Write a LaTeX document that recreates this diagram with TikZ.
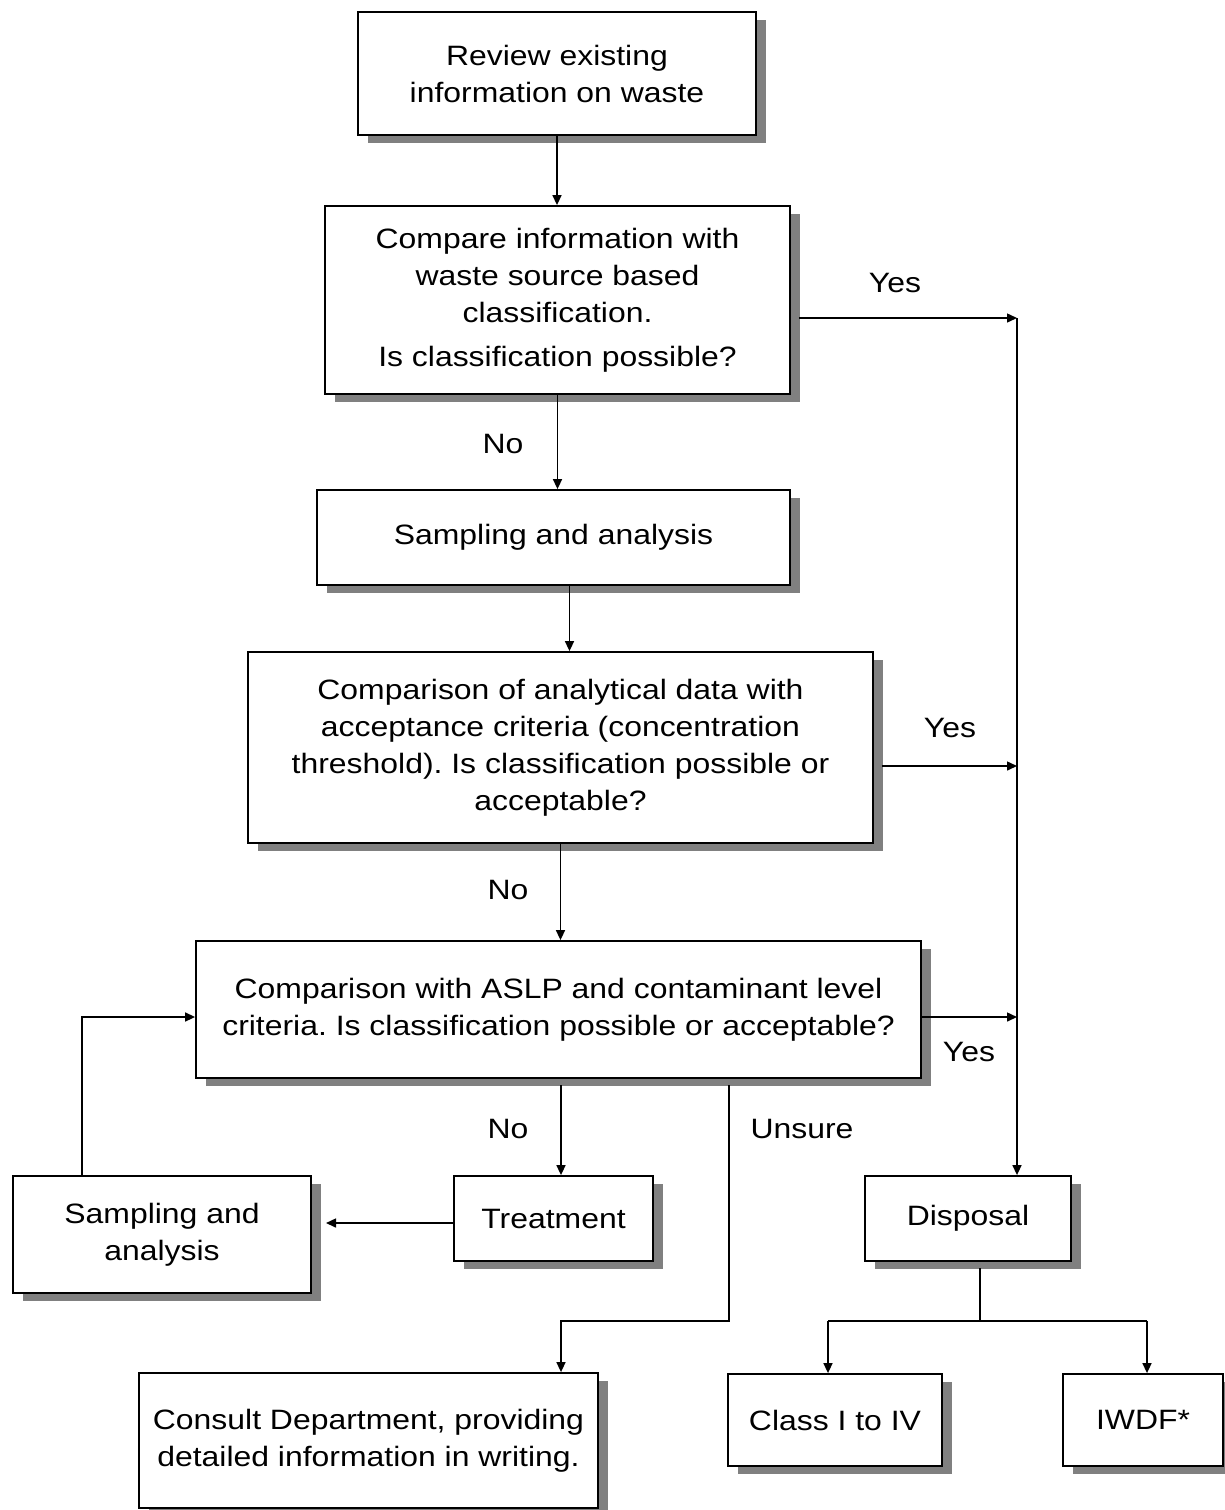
\documentclass[tikz,border=0pt]{standalone}
\usepackage{fontspec}
\setmainfont{Liberation Sans}[FakeStretch=1.14]
\usetikzlibrary{arrows.meta,shadows,calc}
\definecolor{shadowgray}{RGB}{128,128,128}
\frenchspacing
\tikzset{
  box/.style={draw, line width=0.9pt, fill=white, inner sep=0pt, align=center,
    font=\fontsize{14}{18.5}\selectfont\frenchspacing,
    drop shadow={shadow xshift=5pt, shadow yshift=-4pt, fill=shadowgray, opacity=1}},
  arr/.style={line width=0.75pt, -{Triangle[length=5pt,width=4.5pt]}},
  ln/.style={line width=0.75pt},
  lbl/.style={inner sep=0pt, font=\fontsize{14}{18.5}\selectfont}
}
\begin{document}
\begin{tikzpicture}[x=0.5pt,y=-0.5pt]
\useasboundingbox (0,0) rectangle (1225,1510);

% boxes
\node[box, minimum width=199pt, minimum height=61.5pt] (review) at (557,73.5)
  {Review existing\\information on waste};
\node[box, minimum width=232.5pt, minimum height=94pt] (compare) at (557.5,300)
  {Compare information with\\waste source based\\classification.\\[3.5pt]Is classification possible?};
\node[box, minimum width=236.5pt, minimum height=47.5pt] (samp1) at (553.5,537.5)
  {Sampling and analysis};
\node[box, minimum width=312.5pt, minimum height=95.5pt] (anal) at (560.5,747.5)
  {Comparison of analytical data with\\acceptance criteria (concentration\\threshold). Is classification possible or\\acceptable?};
\node[box, minimum width=362.5pt, minimum height=68.5pt] (aslp) at (558.5,1009.5)
  {Comparison with ASLP and contaminant level\\criteria. Is classification possible or acceptable?};
\node[box, minimum width=149pt, minimum height=58.5pt] (samp2) at (162,1234.5)
  {Sampling and\\analysis};
\node[box, minimum width=99.5pt, minimum height=42.5pt] (treat) at (553.5,1218.5)
  {Treatment};
\node[box, minimum width=103pt, minimum height=42.5pt] (disp) at (968,1218.5)
  {Disposal};
\node[box, minimum width=107pt, minimum height=46pt] (class) at (835,1420)
  {Class I to IV};
\node[box, minimum width=80pt, minimum height=46pt] (iwdf) at (1143,1420)
  {IWDF*};
\node[box, minimum width=229.5pt, minimum height=67.5pt] (consult) at (368.5,1440.5)
  {Consult Department, providing\\detailed information in writing.};

% helper coordinates
\coordinate (bus1) at (1017,318);
\coordinate (bus2) at (1017,766);
\coordinate (bus3) at (1017,1017);
\coordinate (t1) at (561,1085);
\coordinate (u1) at (729,1085);
\coordinate (u2) at (561,1321);
\coordinate (s2r) at (326,1223);
\coordinate (l1) at (82,1017);
\coordinate (d0) at (980,1268);
\coordinate (cL) at (828,1321);
\coordinate (cR) at (1147,1321);

% main flow
\draw[arr] (review.south) -- (review.south |- compare.north);
\draw[arr] (compare.south) -- (compare.south |- samp1.north);
\draw[arr] ($(samp1.south)+(16,0)$) -- ($(samp1.south |- anal.north)+(16,0)$);
\draw[arr] (anal.south) -- (anal.south |- aslp.north);

% yes branches
\draw[arr] (bus1 -| {$(compare.east)+(8,0)$}) -- (bus1);
\draw[arr] (bus2 -| {$(anal.east)+(8,0)$}) -- (bus2);
\draw[arr] (bus3 -| aslp.east) -- (bus3);
\draw[arr] (bus1) -- (bus1 |- disp.north);

% no / unsure
\draw[arr] (t1) -- (t1 |- treat.north);
\draw[arr] (u1) |- (u2) -- (u2 |- consult.north);
\draw[arr] (treat.west |- s2r) -- (s2r);
\draw[arr] (l1 |- samp2.north) -- (l1) -- (l1 -| aslp.west);

% disposal tree
\draw[ln] (d0) -- (d0 |- cL);
\draw[ln] (cL) -- (cR);
\draw[arr] (cL) -- (cL |- class.north);
\draw[arr] (cR) -- (cR |- iwdf.north);

% labels
\node[lbl] (y1) at (895,283) {Yes};
\node[lbl] (n1) at (503,444) {No};
\node[lbl] (y2) at (950,728) {Yes};
\node[lbl] (n2) at (508,890) {No};
\node[lbl] (y3) at (969,1052) {Yes};
\node[lbl] (n3) at (508,1129) {No};
\node[lbl] (un) at (802,1129) {Unsure};
\end{tikzpicture}
\end{document}
